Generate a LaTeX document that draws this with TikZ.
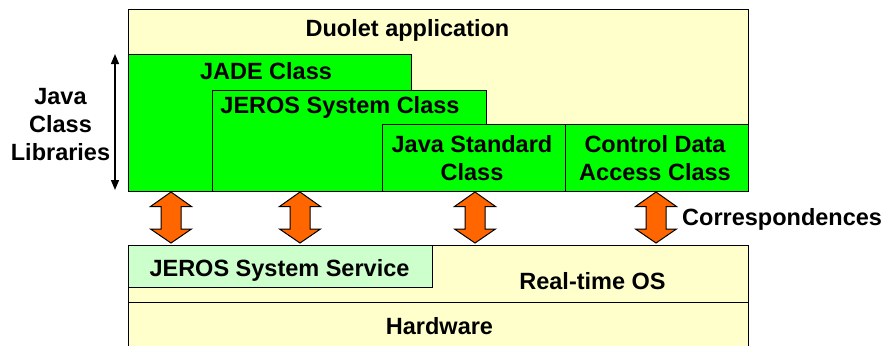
\documentclass[tikz,border=0pt]{standalone}
\usepackage{fontspec}
\setmainfont{Liberation Sans}
\usetikzlibrary{arrows.meta}
\definecolor{paleyellow}{HTML}{FFFFCC}
\definecolor{brightgreen}{HTML}{00FF00}
\definecolor{palegreen}{HTML}{CCFFCC}
\definecolor{orangearr}{HTML}{FF6600}
\begin{document}
\begin{tikzpicture}[x=1pt,y=-1pt,
  box/.style={draw=black, line width=1.3pt, anchor=north west, inner sep=0pt},
  lbl/.style={font=\fontsize{23.5}{28}\selectfont\bfseries, text=black, inner sep=0pt, align=center, anchor=base},
  corr/.style={draw=black, line width=1pt, fill=orangearr, line join=miter}]
\useasboundingbox (0,0) rectangle (885,345);
% upper layer
\node[box, fill=paleyellow, minimum width=620pt, minimum height=182pt] (duolet) at (128,9) {};
\node[box, fill=brightgreen, minimum width=283pt, minimum height=137pt] (jade) at (128,54) {};
\node[box, fill=brightgreen, minimum width=274pt, minimum height=101pt] (jeros) at (212,90) {};
\node[box, fill=brightgreen, minimum width=183pt, minimum height=67pt] (jstd) at (382,124) {};
\node[box, fill=brightgreen, minimum width=183pt, minimum height=67pt] (ctrl) at (565,124) {};
% lower layer
\node[box, fill=paleyellow, minimum width=620pt, minimum height=70pt] (hw) at (128,302) {};
\node[box, fill=paleyellow, minimum width=620pt, minimum height=57pt] (rtos) at (128,245) {};
\node[box, fill=palegreen, minimum width=304pt, minimum height=42pt] (jss) at (128,244.5) {};
% labels (positioned at baselines of their last line)
\node[lbl] (tduolet) at (407.5,36.5) {Duolet application};
\node[lbl] (tjade) at (266,79) {JADE Class};
\node[lbl] (tjeros) at (340,113.3) {JEROS System Class};
\node[lbl] (tjstd) at (472,180) {Java Standard\\Class};
\node[lbl] (tctrl) at (655,180) {Control Data\\Access Class};
\node[lbl] (tjss) at (279.5,276.7) {JEROS System Service};
\node[lbl] (trtos) at (592.5,289) {Real-time OS};
\node[lbl] (thw) at (439.5,334) {Hardware};
\node[lbl] (tjcl) at (60.5,160) {Java\\Class\\Libraries};
\node[lbl, anchor=base west] (tcorr) at (682,225.7) {Correspondences};
% library span arrow
\coordinate (libtop) at (115,54);
\coordinate (libbot) at (115,190);
\draw[line width=1.3pt, {Triangle[length=10pt,width=8pt]}-{Triangle[length=10pt,width=8pt]}] (libtop) -- (libbot);
% correspondence arrows
\foreach \c in {171,300,475,656}{
  \draw[corr] (\c,192) -- (\c+20.5,206.5) -- (\c+10,206.5) -- (\c+10,229) -- (\c+20.5,229)
    -- (\c,243) -- (\c-20.5,229) -- (\c-10,229) -- (\c-10,206.5) -- (\c-20.5,206.5) -- cycle;
}
\end{tikzpicture}
\end{document}
